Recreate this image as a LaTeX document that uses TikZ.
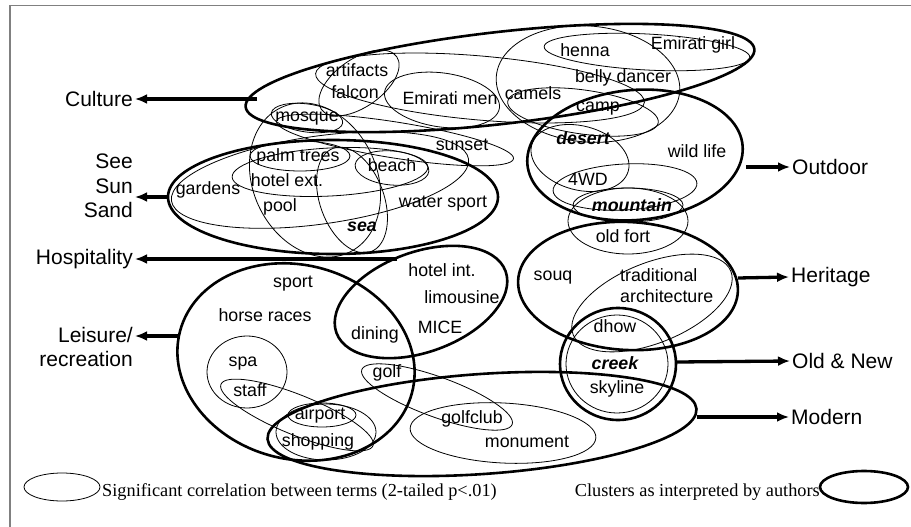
\documentclass[tikz,border=0pt]{standalone}
\usepackage{fontspec}
\setmainfont{Liberation Sans}
\newfontfamily\legfont{Liberation Serif}
\usetikzlibrary{shapes.geometric,arrows.meta}
\newcommand\corr[6]{\node[corr,minimum width=2*#4,minimum height=2*#5,rotate=#6] (#1) at (#2,#3) {};}
\newcommand\clus[6]{\node[clus,minimum width=2*#4,minimum height=2*#5,rotate=#6] (#1) at (#2,#3) {};}

\begin{document}
\begin{tikzpicture}[x=1pt,y=-1pt,
  corr/.style={ellipse,draw,line width=0.8pt,inner sep=0pt},
  clus/.style={ellipse,draw,line width=2.6pt,inner sep=0pt},
  term/.style={font=\fontsize{17.8}{19}\selectfont,inner sep=1pt,text height=12.5pt,text depth=3.5pt},
  key/.style={term,font=\bfseries\itshape\fontsize{17.8}{19}\selectfont},
  cat/.style={font=\fontsize{21}{24.5}\selectfont,align=right,inner sep=2pt},
  arr/.style={line width=3.3pt,-{Latex[length=12pt,width=10pt]}},
  legend/.style={font=\legfont\fontsize{18.3}{20}\selectfont,inner sep=1pt}]
\useasboundingbox (0,0) rectangle (911,527);
\draw[gray,line width=1.5pt] (10,527) -- (10,5.5) -- (911,5.5);

% correlations between terms
\corr{artfal}{359}{83}{46}{24}{35}
\corr{mosq}{307}{118}{36}{14}{-8}
\corr{emmen}{442}{100}{58}{27}{-8}
\corr{falcamp}{480}{88}{165}{32}{-5}
\corr{camelsE}{588}{84}{92}{58}{-5}
\corr{hennaE}{647}{52}{103}{18}{-3}
\corr{campE}{583}{112}{76}{22}{-8}
\corr{sunsetE}{395}{140}{120}{18}{-9}
\corr{desertE}{580}{158}{50}{32}{-15}
\corr{fourwdE}{625}{187}{72}{23}{3}
\corr{mountE}{628}{205}{55}{17}{0}
\corr{fortE}{628}{221}{60}{33}{0}
\corr{gardE}{320}{180}{150}{44}{8}
\corr{palmE}{300}{156}{50}{15}{0}
\corr{hotelE}{330}{172}{98}{24}{3}
\corr{beachE}{392}{168}{37}{17}{-5}
\corr{seaE}{352}{200}{55}{32}{-70}
\corr{poolE}{315}{180}{80}{62}{-65}
\corr{tradE}{652}{303}{85}{40}{22}
\corr{creekE}{617}{364}{51}{49}{0}
\corr{spaE}{247}{372}{40}{36}{0}
\corr{staffE}{297}{415}{82}{20}{-22}
\corr{airportE}{322}{415}{34}{12}{0}
\corr{shopE}{326}{432}{50}{28}{0}
\corr{golfE}{437}{397}{80}{20}{-20}
\corr{monE}{503}{433}{93}{30}{-3}

% clusters
\clus{culture}{500}{78}{256}{46}{6.5}
\clus{sss}{333}{197}{165}{57}{0}
\clus{outdoor}{635}{155}{108}{65}{5}
\clus{heritage}{628}{286}{110}{64}{-3}
\clus{oldnew}{618}{364}{58}{56}{0}
\clus{modern}{482}{424}{215}{50}{4}
\clus{hosp}{421}{302}{90}{50}{20}
\clus{leisure}{296}{362}{120}{97}{-15}

% terms
\node[term] (artifacts) at (357,72) {artifacts};
\node[term] (falcon) at (355,94) {falcon};
\node[term] (mosque) at (307,117) {mosque};
\node[term] (emiratimen) at (450,100) {Emirati men};
\node[term] (camels) at (533,95) {camels};
\node[term] (henna) at (585,52) {henna};
\node[term] (emiratigirl) at (693,45) {Emirati girl};
\node[term] (belly) at (623,78) {belly dancer};
\node[term] (camp) at (598,107) {camp};
\node[term] (sunset) at (462,146) {sunset};
\node[key] (desert) at (583,140) {desert};
\node[term] (wildlife) at (697,153) {wild life};
\node[term] (fourwd) at (588,181) {4WD};
\node[key] (mountain) at (632,207) {mountain};
\node[term] (oldfort) at (623,238) {old fort};
\node[term] (palm) at (298,157) {palm trees};
\node[term] (beach) at (392,167) {beach};
\node[term] (gardens) at (208,190) {gardens};
\node[term] (hotelext) at (287,182) {hotel ext.};
\node[term] (pool) at (280,207) {pool};
\node[term] (watersport) at (443,203) {water sport};
\node[key] (sea) at (362,227) {sea};
\node[term] (hotelint) at (442,272) {hotel int.};
\node[term] (limousine) at (462,299) {limousine};
\node[term] (mice) at (440,329) {MICE};
\node[term] (dining) at (375,335) {dining};
\node[term] (sport) at (293,283) {sport};
\node[term] (horse) at (265,317) {horse races};
\node[term] (spa) at (243,362) {spa};
\node[term] (staff) at (250,392) {staff};
\node[term] (golf) at (387,373) {golf};
\node[term] (airport) at (320,415) {airport};
\node[term] (shopping) at (318,442) {shopping};
\node[term] (golfclub) at (472,419) {golfclub};
\node[term] (monument) at (527,443) {monument};
\node[term] (souq) at (553,276) {souq};
\node[font=\fontsize{17.8}{21}\selectfont,align=left,anchor=west,inner sep=0pt] (tradarch) at (620,286) {traditional\\architecture};
\node[term] (dhow) at (615,328) {dhow};
\node[key] (creek) at (615,365) {creek};
\node[term] (skyline) at (617,389) {skyline};

% cluster names
\node[cat,anchor=east] (culturelbl) at (135,99) {Culture};
\node[cat,anchor=east] (ssslbl) at (135,186) {See\\Sun\\Sand};
\node[cat,anchor=east] (hosplbl) at (135,259) {Hospitality};
\node[cat,anchor=east] (leisurelbl) at (135,347) {Leisure/\\recreation};
\node[cat,anchor=west] (outdoorlbl) at (790,167) {Outdoor};
\node[cat,anchor=west] (heritagelbl) at (789,277) {Heritage};
\node[cat,anchor=west] (oldnewlbl) at (790,361) {Old \& New};
\node[cat,anchor=west] (modernlbl) at (789,417) {Modern};

\coordinate (cultureA) at (257,99);
\coordinate (sssA) at (168,197);
\coordinate (hospA) at (397,259);
\coordinate (leisureA) at (178,336);
\coordinate (outdoorA) at (746,167);
\coordinate (heritageA) at (738,278);
\coordinate (oldnewA) at (677,362);
\coordinate (modernA) at (697,417);
\draw[arr] (cultureA) -- (culturelbl.east);
\draw[arr] (sssA) -- (sssA -| ssslbl.east);
\draw[arr] (hospA) -- (hosplbl.east);
\draw[arr] (leisureA) -- (leisureA -| leisurelbl.east);
\draw[arr] (outdoorA) -- (outdoorlbl.west);
\draw[arr] (heritageA) -- (heritagelbl.west);
\draw[arr] (oldnewA) -- (oldnewlbl.west);
\draw[arr] (modernA) -- (modernlbl.west);

% legend
\corr{legcorr}{62}{487}{38}{14}{0}
\clus{legclus}{864}{487}{44}{16}{0}
\node[legend,anchor=base west] (legcorrtxt) at (101,496) {Significant correlation between terms (2-tailed p<.01)};
\node[legend,anchor=base east] (legclustxt) at (821,496) {Clusters as interpreted by authors};
\end{tikzpicture}
\end{document}
